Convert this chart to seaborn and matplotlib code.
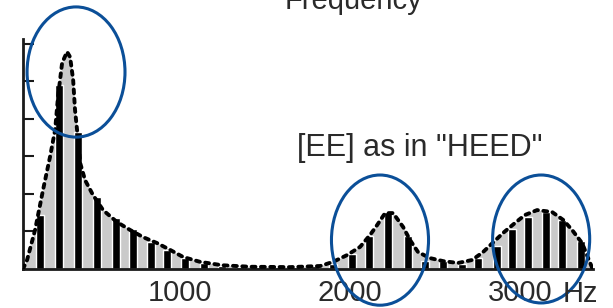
import numpy as np
import pandas as pd
import matplotlib.pyplot as plt
import seaborn as sns
from matplotlib.patches import Ellipse

# harmonics of the vowel (Hz) and their amplitudes
harmonic_hz = [176, 288, 400, 512, 624, 724, 829, 924, 1029, 1141,
               1247, 1353, 1465, 1576, 1682, 1794, 1900, 2012, 2112, 2224,
               2341, 2441, 2547, 2659, 2753, 2865, 2953, 3047, 3153, 3247, 3359]
harmonic_amp = [1.44, 4.9, 3.65, 1.92, 1.36, 1.07, 0.72, 0.5, 0.3, 0.16,
                0.08, 0.06, 0.05, 0.05, 0.06, 0.08, 0.12, 0.4, 0.88, 1.52,
                0.88, 0.22, 0.2, 0.12, 0.28, 0.6, 1.07, 1.39, 1.52, 1.31, 0.75]

# spectral envelope (dotted line)
env_hz = [76, 100, 147, 194, 235, 265, 282, 306, 335, 353, 371, 382, 400, 412,
          441, 488, 547, 629, 706, 782, 865, 941, 1018, 1118, 1247, 1412, 1647,
          1824, 1900, 1982, 2059, 2118, 2159, 2206, 2253, 2312, 2353, 2400,
          2471, 2547, 2635, 2718, 2782, 2900, 2971, 3029, 3100, 3188, 3253,
          3306, 3365, 3424]
env_amp = [0, 0.24, 1.04, 2.11, 2.99, 3.71, 4.59, 5.49, 5.79, 5.65, 5.04, 4.24, 3.44, 2.83,
           2.37, 1.97, 1.57, 1.25, 1.04, 0.85, 0.69, 0.51, 0.32, 0.19, 0.1, 0.06, 0.05,
           0.08, 0.19, 0.37, 0.59, 0.91, 1.17, 1.49, 1.49, 1.12, 0.77, 0.45,
           0.29, 0.21, 0.16, 0.24, 0.45, 0.96, 1.23, 1.44, 1.57, 1.52, 1.31,
           1.04, 0.69, 0.03]

x_ticks = [1000, 2000, 3000]
x_labels = ['1000', '2000', '3000']

sns.set_theme(style='white')
plt.rcParams['font.family'] = ['Liberation Sans', 'DejaVu Sans']
txt_color = '#2a2a2a'

fig = plt.figure(figsize=(6.13, 3.08), dpi=100)
ax = fig.add_axes([23 / 613, 39 / 308, 570 / 613, 230 / 308])

ax.fill_between(env_hz, env_amp, color='#cacaca', lw=0, zorder=1)
sns.barplot(x=harmonic_hz, y=harmonic_amp, native_scale=True, width=0.55,
            color='black', saturation=1, errorbar=None, ax=ax, zorder=2)
sns.lineplot(x=env_hz, y=env_amp, color='black', lw=2.8, linestyle=(0, (1, 1.4)),
             dash_capstyle='round', ax=ax, zorder=3)

# circled formants
for cx, cy, w, h in [(388, 5.25, 576, 3.47), (2176, 0.77, 571, 3.47), (3124, 0.8, 571, 3.41)]:
    ax.add_patch(Ellipse((cx, cy), w, h, fill=False, ec='#0b4f98', lw=2.2,
                         clip_on=False, zorder=5))

ax.set_xlim(76, 3429)
ax.set_ylim(0, 6.13)
ax.set_xticks(x_ticks)
ax.set_xticklabels(x_labels)
ax.set_yticks([1, 2, 3, 4, 5, 6])
ax.set_yticklabels([])
ax.set_xlabel('')
ax.set_ylabel('')
ax.tick_params(axis='x', length=0, pad=7, labelsize=21, labelcolor=txt_color)
ax.tick_params(axis='y', direction='in', length=8, width=1.5, color='#1a1a1a', left=True)
for s in ['top', 'right']:
    ax.spines[s].set_visible(False)
for s in ['left', 'bottom']:
    ax.spines[s].set_linewidth(2)
    ax.spines[s].set_color('#1a1a1a')

fig.text(285 / 613, 1 - 9 / 308, 'Frequency', fontsize=21, color=txt_color, va='baseline')
fig.text(297 / 613, 1 - 156 / 308, '[EE] as in "HEED"', fontsize=22, color=txt_color, va='baseline')
fig.text(563 / 613, 1 - 302 / 308, 'Hz', fontsize=21, color=txt_color, va='baseline')

fig.savefig('out.png', dpi=100)
